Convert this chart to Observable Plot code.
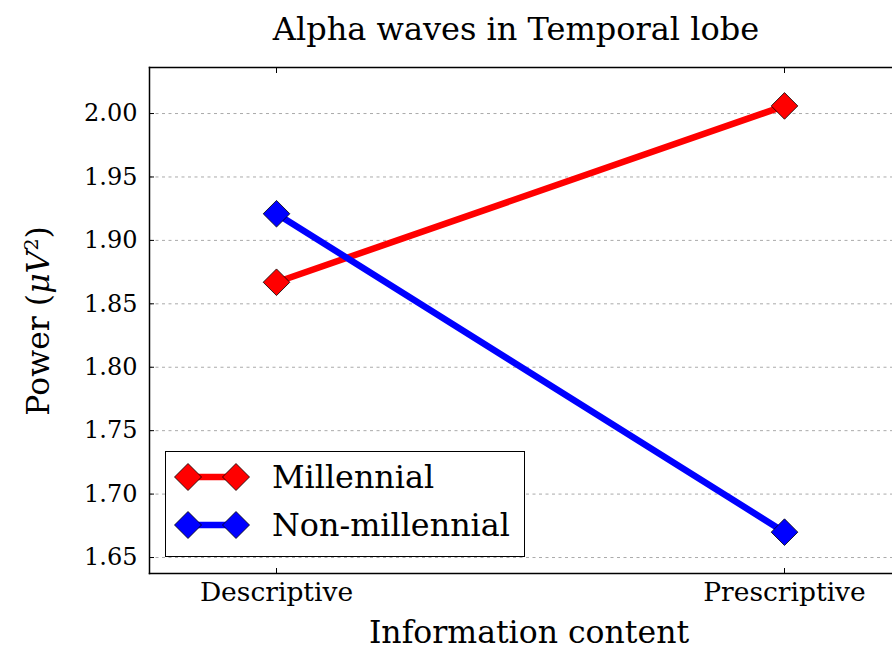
<!DOCTYPE html>
<html>
<head>
<meta charset="utf-8">
<script src="https://cdn.jsdelivr.net/npm/d3@7"></script>
<script src="https://cdn.jsdelivr.net/npm/@observablehq/plot@0.6"></script>
<style>
  html, body { margin: 0; padding: 0; background: #fff; }
  #wrap { position: relative; width: 892px; height: 649px; overflow: hidden; font-family: "DejaVu Serif", serif; color: #000; }
  #title { position: absolute; left: 516px; top: 13px; transform: translateX(-50%); white-space: nowrap; font-size: 32px; line-height: 32px; }
  #ylabel { position: absolute; left: 38px; top: 321px; transform: translate(-50%, -50%) rotate(-90deg); white-space: nowrap; font-size: 31.5px; line-height: 32px; }
  #xlabel { position: absolute; left: 529px; top: 617px; transform: translateX(-50%); white-space: nowrap; font-size: 31.5px; line-height: 31px; }
  #legend { position: absolute; left: 165px; top: 451px; width: 360px; height: 106px; border: 1.5px solid #000; background: #fff; box-sizing: border-box; }
  .row { position: absolute; left: 0; height: 40px; display: flex; align-items: center; }
  .row svg { margin-left: 8px; flex: none; }
  .row span { margin-left: 22px; font-size: 31.8px; line-height: 40px; white-space: nowrap; }
</style>
</head>
<body>
<div id="wrap">
  <div id="title"></div>
  <div id="ylabel">Power (<i>μV</i><sup style="font-size:60%;vertical-align:super;line-height:0">2</sup>)</div>
  <div id="xlabel"></div>
  <div id="legend"></div>
</div>
<script>
const titleText = "Alpha waves in Temporal lobe";
const xLabelText = "Information content";
const categories = ["Descriptive", "Prescriptive"];
const seriesNames = ["Millennial", "Non-millennial"];
const millennial = [1.867, 2.006];
const nonMillennial = [1.921, 1.670];
const colors = ["#ff0000", "#0000ff"];
const yTicks = [1.65, 1.70, 1.75, 1.80, 1.85, 1.90, 1.95, 2.00];

const data = [];
[millennial, nonMillennial].forEach((vals, s) => {
  vals.forEach((v, i) => data.push({series: seriesNames[s], i, v}));
});

document.getElementById("title").textContent = titleText;
document.getElementById("xlabel").textContent = xLabelText;

const plot = Plot.plot({
  width: 892,
  height: 649,
  marginLeft: 149,
  marginRight: 0,
  marginTop: 67,
  marginBottom: 76,
  style: {fontFamily: "DejaVu Serif", fontSize: "24px", color: "#000", background: "transparent"},
  x: {type: "linear", domain: [-0.25, 1.25], range: [149, 911]},
  y: {domain: [1.6374, 2.0363]},
  color: {domain: seriesNames, range: colors},
  marks: [
    Plot.ruleY(yTicks, {stroke: "#aaa", strokeWidth: 1, strokeDasharray: "3,3.5"}),
    Plot.axisY({ticks: yTicks, tickFormat: d3.format(".2f"), tickSize: -5, tickPadding: 17, label: null, stroke: "#000"}),
    Plot.axisX({ticks: [0, 1], tickFormat: i => categories[i], tickSize: -5, tickPadding: 14, label: null, fontSize: 26.5}),
    Plot.axisX({anchor: "top", ticks: [0, 1], tickFormat: () => "", tickSize: -5, label: null}),
    Plot.frame({anchor: "left", strokeWidth: 1.5}),
    Plot.frame({anchor: "top", strokeWidth: 1.5}),
    Plot.frame({anchor: "bottom", strokeWidth: 1.5}),
    Plot.line(data, {x: "i", y: "v", z: "series", stroke: "series", strokeWidth: 6.5}),
    Plot.dot(data, {x: "i", y: "v", fill: "series", symbol: "diamond2", r: 12, stroke: "#000", strokeWidth: 0.8})
  ]
});
document.getElementById("wrap").prepend(plot);
plot.style.position = "absolute";
plot.style.left = "0";
plot.style.top = "0";

const legend = document.getElementById("legend");
seriesNames.forEach((name, k) => {
  const row = document.createElement("div");
  row.className = "row";
  row.style.top = (5 + k * 48) + "px";
  const c = colors[k];
  row.innerHTML = `<svg width="76" height="30" viewBox="-1 0 76 30">
    <line x1="13" y1="15" x2="61" y2="15" stroke="${c}" stroke-width="6.5"/>
    <path d="M13,1.5 L26.5,15 L13,28.5 L-0.5,15 Z" fill="${c}" stroke="#000" stroke-width="0.8"/>
    <path d="M61,1.5 L74.5,15 L61,28.5 L47.5,15 Z" fill="${c}" stroke="#000" stroke-width="0.8"/>
  </svg><span>${name}</span>`;
  legend.appendChild(row);
});
</script>
</body>
</html>
